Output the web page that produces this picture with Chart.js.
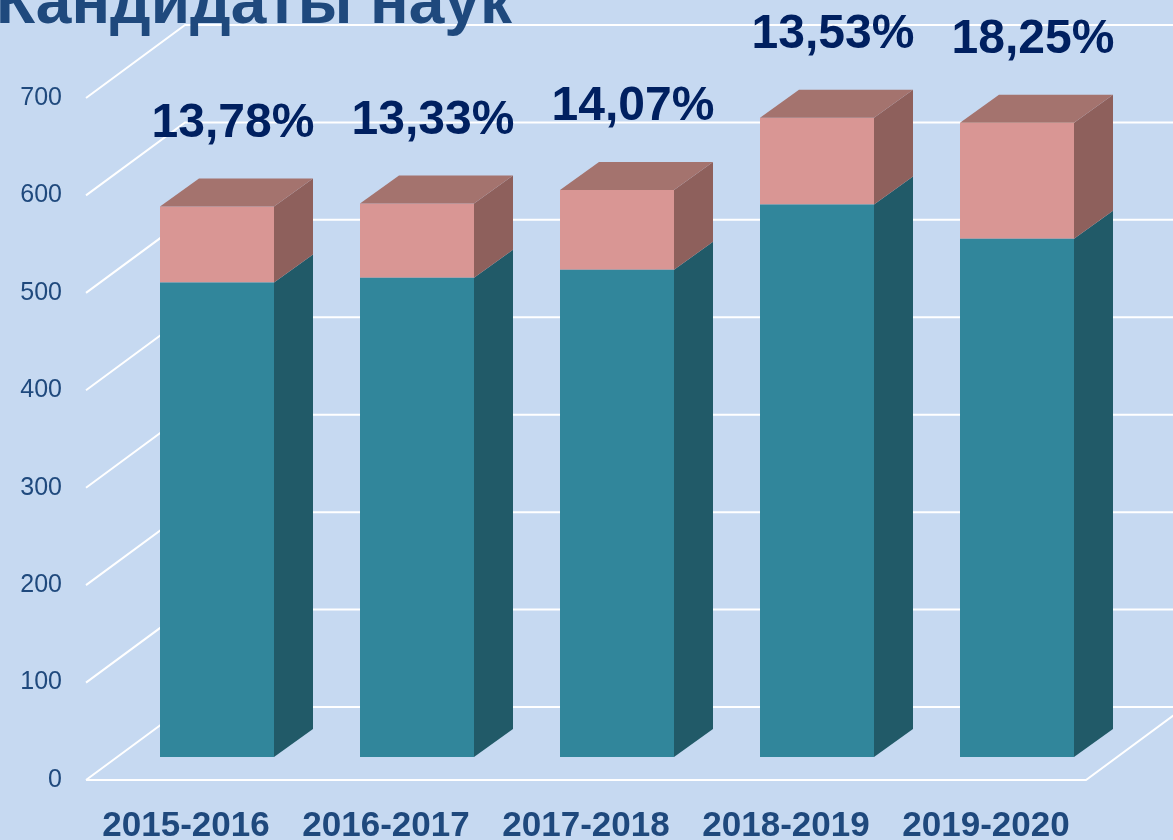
<!DOCTYPE html>
<html>
<head>
<meta charset="utf-8">
<script src="https://cdn.jsdelivr.net/npm/chart.js@4.4.0/dist/chart.umd.min.js"></script>
<style>
  html, body { margin: 0; padding: 0; background: #C6D9F1; overflow: hidden; }
  #wrap { width: 1173px; height: 840px; }
</style>
</head>
<body>
<div id="wrap"><canvas id="chart" width="1173" height="840"></canvas></div>
<script>
// data
var categories = ['2015-2016', '2016-2017', '2017-2018', '2018-2019', '2019-2020'];
var mainValues = [487, 492, 500, 567, 532];
var topValues = [78, 76, 82, 89, 119];
var percentLabels = ['13,78%', '13,33%', '14,07%', '13,53%', '18,25%'];
var titleText = 'Кандидаты наук';

// fake 3d: offsets from the bar plane
var DEPTH = { dx: 39, dy: -28 };          // bar depth
var FRONT = { dx: -31, dy: 23 };          // front edge of floor / side wall
var BACK = { dx: 68, dy: -50 };           // back wall

var sideColors = ['#215A68', '#8E605C'];
var topColors = ['#25697A', '#A4736E'];

var threeD = {
  id: 'threeD',
  beforeDatasetsDraw: function(chart) {
    var ctx = chart.ctx, y = chart.scales.y, ca = chart.chartArea;
    ctx.save();
    ctx.strokeStyle = '#ffffff';
    ctx.lineWidth = 2;
    y.ticks.forEach(function(t) {
      var py = y.getPixelForValue(t.value);
      ctx.beginPath();
      ctx.moveTo(ca.left + FRONT.dx, py + FRONT.dy);
      ctx.lineTo(ca.left + BACK.dx, py + BACK.dy);
      ctx.lineTo(chart.width + 5, py + BACK.dy);
      ctx.stroke();
    });
    // floor front edge and right side
    var p0 = y.getPixelForValue(0);
    ctx.beginPath();
    ctx.moveTo(ca.left + FRONT.dx, p0 + FRONT.dy);
    ctx.lineTo(ca.right + FRONT.dx, p0 + FRONT.dy);
    ctx.lineTo(ca.right + BACK.dx, p0 + BACK.dy);
    ctx.stroke();
    ctx.restore();
  },
  afterDatasetsDraw: function(chart) {
    var ctx = chart.ctx;
    var last = chart.data.datasets.length - 1;
    ctx.save();
    chart.data.datasets.forEach(function(ds, di) {
      chart.getDatasetMeta(di).data.forEach(function(bar) {
        var r = bar.x + bar.width / 2, l = bar.x - bar.width / 2;
        var top = bar.y, base = bar.base;
        ctx.fillStyle = sideColors[di];
        ctx.beginPath();
        ctx.moveTo(r, top);
        ctx.lineTo(r + DEPTH.dx, top + DEPTH.dy);
        ctx.lineTo(r + DEPTH.dx, base + DEPTH.dy);
        ctx.lineTo(r, base);
        ctx.closePath();
        ctx.fill();
        if (di === last) {
          ctx.fillStyle = topColors[di];
          ctx.beginPath();
          ctx.moveTo(l, top);
          ctx.lineTo(l + DEPTH.dx, top + DEPTH.dy);
          ctx.lineTo(r + DEPTH.dx, top + DEPTH.dy);
          ctx.lineTo(r, top);
          ctx.closePath();
          ctx.fill();
        }
      });
    });
    // percentages over the stacks
    ctx.fillStyle = '#002060';
    ctx.font = 'bold 48px "Liberation Sans", Arial, sans-serif';
    ctx.textAlign = 'center';
    ctx.textBaseline = 'alphabetic';
    chart.getDatasetMeta(last).data.forEach(function(bar, i) {
      ctx.fillText(percentLabels[i], bar.x + 16, bar.y + DEPTH.dy - 42);
    });
    ctx.restore();
  },
  afterDraw: function(chart) {
    var ctx = chart.ctx;
    ctx.save();
    // title, cut by the top edge like the slide
    ctx.fillStyle = '#1F497D';
    ctx.font = 'bold 64px "Liberation Sans", Arial, sans-serif';
    ctx.textAlign = 'left';
    ctx.textBaseline = 'alphabetic';
    ctx.fillText(titleText, -4, 23);
    ctx.restore();
  }
};

new Chart(document.getElementById('chart'), {
  type: 'bar',
  data: {
    labels: categories,
    datasets: [
      { data: mainValues, backgroundColor: '#31869B', borderWidth: 0 },
      { data: topValues, backgroundColor: '#D99694', borderWidth: 0 }
    ]
  },
  options: {
    responsive: false,
    animation: false,
    layout: { padding: { top: 75, right: 56, left: 0, bottom: 0 } },
    datasets: { bar: { categoryPercentage: 1, barPercentage: 0.57 } },
    plugins: { legend: { display: false }, tooltip: { enabled: false }, title: { display: false } },
    scales: {
      x: {
        stacked: true,
        grid: { display: false },
        border: { display: false },
        afterFit: function(s) { s.height = 83; },
        ticks: {
          color: '#1F497D',
          font: { family: '"Liberation Sans", Arial, sans-serif', size: 35, weight: 'bold' },
          padding: 40,
          labelOffset: FRONT.dx,
          maxRotation: 0,
          autoSkip: false
        }
      },
      y: {
        stacked: true,
        min: 0,
        max: 700,
        grid: { display: false },
        border: { display: false },
        afterFit: function(s) { s.width = 117; },
        ticks: {
          stepSize: 100,
          color: '#1F497D',
          font: { family: '"Liberation Sans", Arial, sans-serif', size: 25 },
          padding: 47,
          labelOffset: FRONT.dy
        }
      }
    }
  },
  plugins: [threeD]
});
</script>
</body>
</html>
